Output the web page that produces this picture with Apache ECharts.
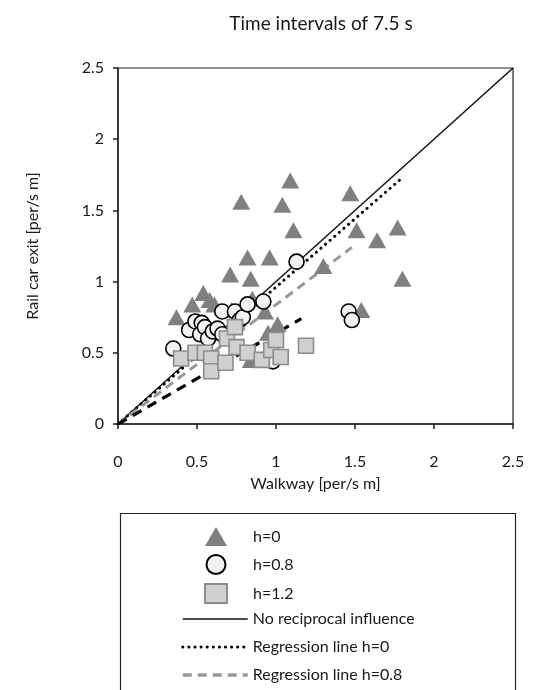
<!DOCTYPE html>
<html>
<head>
<meta charset="utf-8">
<script src="https://cdn.jsdelivr.net/npm/echarts@6/dist/echarts.min.js"></script>
<style>
  html, body { margin: 0; padding: 0; background: #fff; }
  #chart { width: 535px; height: 690px; }
</style>
</head>
<body>
<div id="chart"></div>
<script>
// data: [walkway, rail car exit]
var h0Points = [
    [0.37, 0.75], [0.47, 0.84], [0.54, 0.92], [0.61, 0.84], [0.58, 0.87],
    [0.71, 1.05], [0.72, 0.80], [0.78, 1.56], [0.82, 1.17], [0.84, 1.02],
    [0.85, 0.88], [0.93, 0.79], [0.96, 1.17], [1.01, 0.70], [0.95, 0.64],
    [0.84, 0.45], [1.04, 1.54], [1.09, 1.71], [1.11, 1.36], [1.30, 1.11],
    [1.47, 1.62], [1.51, 1.36], [1.54, 0.80], [1.64, 1.29], [1.77, 1.38],
    [1.80, 1.02]
];
var h08Points = [
    [0.35, 0.53], [0.45, 0.66], [0.49, 0.72], [0.53, 0.71], [0.52, 0.63],
    [0.55, 0.68], [0.57, 0.60], [0.60, 0.65], [0.63, 0.67], [0.66, 0.63],
    [0.66, 0.79], [0.74, 0.79], [0.77, 0.73], [0.79, 0.75], [0.82, 0.84],
    [0.92, 0.86], [0.98, 0.44], [1.13, 1.14], [1.46, 0.79], [1.48, 0.73]
];
var h12Points = [
    [0.40, 0.46], [0.49, 0.50], [0.55, 0.50], [0.59, 0.46], [0.59, 0.37],
    [0.68, 0.43], [0.69, 0.60], [0.74, 0.68], [0.75, 0.54], [0.82, 0.50],
    [0.91, 0.45], [0.97, 0.52], [1.00, 0.59], [1.03, 0.47], [1.19, 0.55]
];
var noInfluenceLine = [[0, 0], [2.5, 2.5]];
var regLineH0 = [[0, 0], [1.80, 1.73]];
var regLineH08 = [[0, 0], [1.48, 1.24]];
var regLineH12 = [[0, 0], [1.16, 0.74]];
var axisTicks = [0, 0.5, 1, 1.5, 2, 2.5];

var FONT = 'Lato';
var TXT = '#1a1a1a';

var chart = echarts.init(document.getElementById('chart'));

var option = {
    animation: false,
    textStyle: { fontFamily: FONT, color: TXT },
    title: {
        text: 'Time intervals of 7.5 s',
        left: 316,
        top: 9,
        textAlign: 'center',
        textStyle: { fontFamily: FONT, fontSize: 19, fontWeight: 'normal', color: TXT }
    },
    grid: {
        left: 118, right: 22, top: 68, bottom: 266,
        show: true, borderColor: '#222', borderWidth: 1.2
    },
    xAxis: {
        type: 'value',
        min: axisTicks[0], max: axisTicks[axisTicks.length - 1], interval: 0.5,
        name: 'Walkway [per/s m]',
        nameLocation: 'middle',
        nameGap: 52,
        nameTextStyle: { fontFamily: FONT, fontSize: 16, color: TXT },
        axisLine: { onZero: false, lineStyle: { color: '#222', width: 1.5 } },
        axisTick: { show: true, inside: false, length: 5, lineStyle: { color: '#222', width: 1.5 } },
        axisLabel: { margin: 30, fontFamily: FONT, fontSize: 16, color: TXT },
        splitLine: { show: false }
    },
    yAxis: {
        type: 'value',
        min: axisTicks[0], max: axisTicks[axisTicks.length - 1], interval: 0.5,
        name: 'Rail car exit [per/s m]',
        nameLocation: 'middle',
        nameGap: 77,
        nameTextStyle: { fontFamily: FONT, fontSize: 16, color: TXT },
        axisLine: { onZero: false, lineStyle: { color: '#222', width: 1.5 } },
        axisTick: { show: true, inside: false, length: 5, lineStyle: { color: '#222', width: 1.5 } },
        axisLabel: { margin: 14, fontFamily: FONT, fontSize: 16, color: TXT },
        splitLine: { show: false }
    },
    legend: [
        {
            orient: 'vertical',
            left: 204, top: 527, padding: 0,
            itemWidth: 22, itemHeight: 19, itemGap: 8,
            data: ['h=0', 'h=0.8', 'h=1.2'],
            textStyle: { fontFamily: FONT, fontSize: 16, color: TXT, lineHeight: 19, padding: [0, 0, 0, 21] }
        },
        {
            orient: 'vertical',
            left: 181, top: 610, padding: 0, height: 80,
            itemWidth: 65, itemHeight: 18, itemGap: 10,
            data: [
                { name: 'No reciprocal influence', lineStyle: { width: 1.5 } },
                { name: 'Regression line h=0', lineStyle: { width: 3 } },
                { name: 'Regression line h=0.8', lineStyle: { width: 3.5 } }
            ],
            itemStyle: { color: 'rgba(0,0,0,0)', borderColor: 'rgba(0,0,0,0)', borderWidth: 0 },
            textStyle: { fontFamily: FONT, fontSize: 16, color: TXT, lineHeight: 18 }
        }
    ],
    graphic: [
        {
            type: 'rect',
            left: 118, top: 511, z: 100,
            shape: { width: 395, height: 177 },
            style: { fill: 'none', stroke: '#222', lineWidth: 1.2 }
        }
    ],
    series: [
        {
            name: 'No reciprocal influence',
            type: 'line',
            data: noInfluenceLine,
            symbol: 'none',
            itemStyle: { color: '#111' },
            lineStyle: { color: '#111', width: 1.5, type: 'solid' },
            z: 1
        },
        {
            name: 'Regression line h=0',
            type: 'line',
            data: regLineH0,
            symbol: 'none',
            itemStyle: { color: '#000' },
            lineStyle: { color: '#000', width: 3, type: [0.1, 6], cap: 'round' },
            z: 1
        },
        {
            name: 'Regression line h=0.8',
            type: 'line',
            data: regLineH08,
            symbol: 'none',
            itemStyle: { color: '#999' },
            lineStyle: { color: '#999', width: 3, type: [9, 6] },
            z: 1
        },
        {
            name: 'Regression line h=1.2',
            type: 'line',
            data: regLineH12,
            symbol: 'none',
            itemStyle: { color: '#000' },
            lineStyle: { color: '#000', width: 3.2, type: [10, 7] },
            z: 1
        },
        {
            name: 'h=0',
            type: 'scatter',
            data: h0Points,
            symbol: 'triangle',
            symbolSize: [18, 16],
            itemStyle: { color: '#808080', opacity: 1 },
            z: 2
        },
        {
            name: 'h=0.8',
            type: 'scatter',
            data: h08Points,
            symbol: 'circle',
            symbolSize: 15,
            itemStyle: { color: '#f2f2f2', borderColor: '#000', borderWidth: 1.6, opacity: 1 },
            z: 3
        },
        {
            name: 'h=1.2',
            type: 'scatter',
            data: h12Points,
            symbol: 'rect',
            symbolSize: 15,
            itemStyle: { color: '#d0d0d0', borderColor: '#8c8c8c', borderWidth: 1.6, opacity: 1 },
            z: 4
        }
    ]
};

chart.setOption(option);
</script>
</body>
</html>
